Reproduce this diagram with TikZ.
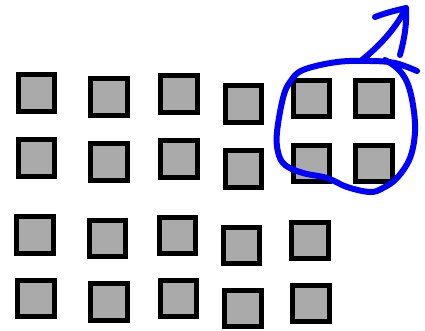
\documentclass[tikz,border=0pt]{standalone}
\usepackage{tikz}
\usetikzlibrary{positioning}
\definecolor{boxgray}{RGB}{170,170,170}
\definecolor{penblue}{RGB}{0,0,255}

\begin{document}
\begin{tikzpicture}[
    x=1pt, y=-1pt,
    cell/.style={rectangle, draw=black, line width=5pt, fill=boxgray, minimum size=36.5pt, inner sep=0pt},
    pen/.style={draw=penblue, line width=6pt, line cap=round, line join=round}
]
    \useasboundingbox (0,0) rectangle (425,331);

    % Row 1
    \node[cell] (A1) at (36.5, 93) {};
    \node[cell] (A2) at (109, 97) {};
    \node[cell] (A3) at (179, 94) {};
    \node[cell] (A4) at (243.5, 104) {};
    \node[cell] (A5) at (311.5, 98.5) {};
    \node[cell] (A6) at (374, 98.5) {};

    % Row 2
    \node[cell] (B1) at (36.5, 158) {};
    \node[cell] (B2) at (109, 162) {};
    \node[cell] (B3) at (179, 159) {};
    \node[cell] (B4) at (243.5, 169) {};
    \node[cell] (B5) at (311.5, 163.5) {};
    \node[cell] (B6) at (374, 163.5) {};

    % Row 3
    \node[cell] (C1) at (35, 235) {};
    \node[cell] (C2) at (107.5, 238.5) {};
    \node[cell] (C3) at (177.5, 235.5) {};
    \node[cell] (C4) at (241.5, 245.5) {};
    \node[cell] (C5) at (310, 240.5) {};

    % Row 4
    \node[cell] (D1) at (36, 298.5) {};
    \node[cell] (D2) at (109, 302) {};
    \node[cell] (D3) at (178.5, 298.5) {};
    \node[cell] (D4) at (243, 308.5) {};
    \node[cell] (D5) at (311, 303.5) {};

    % Freehand loop round the selected cells
    \draw[pen] plot[smooth, tension=0.6] coordinates {
        (417,71) (395,63) (370,61) (337,62) (303,70) (290,82) (283,98)
        (277,132) (278,152) (285,165) (303,173) (327,178) (347,187)
        (370,192) (383,188) (397,178) (410,158) (415,132) (413,105)
        (407,82) (397,68) (385,60)};

    % Freehand arrow leaving the loop
    \coordinate (tail) at (362,60);
    \coordinate (tip) at (406,8);
    \draw[pen] (tail) .. controls (378,47) and (395,30) .. (tip);
    \draw[pen] (375,17) .. controls (388,12) and (398,10) .. (tip)
        .. controls (407,25) and (404,40) .. (400,55);
\end{tikzpicture}
\end{document}
